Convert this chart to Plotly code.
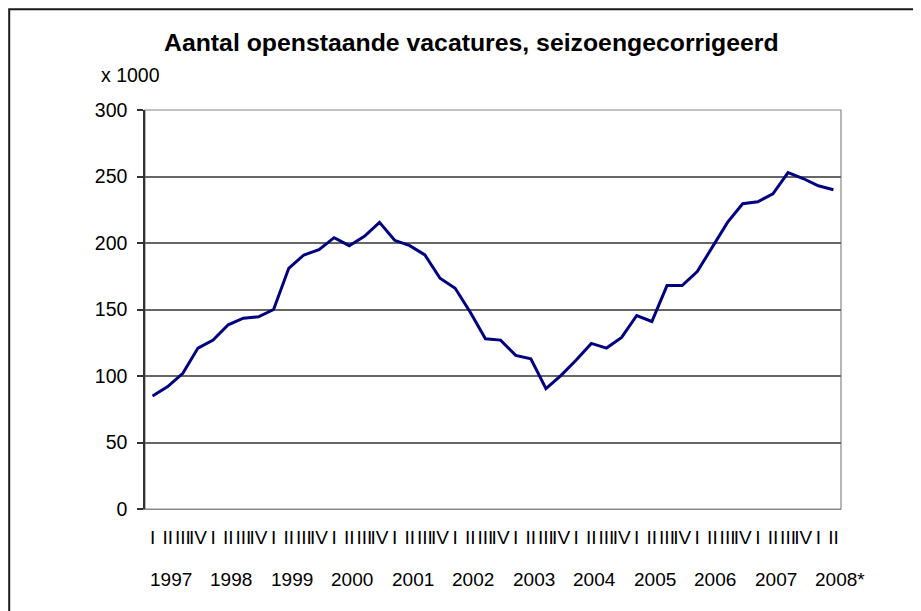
import plotly.graph_objects as go

# ---- data ----
quarters = ["I", "II", "III", "IV"]
years = ["1997", "1998", "1999", "2000", "2001", "2002", "2003",
         "2004", "2005", "2006", "2007", "2008*"]
values = [85, 92, 102, 121, 127, 138.5, 143.5, 144.5,
          150, 181, 191, 195, 204, 198, 205, 215.5,
          202, 198, 191, 173.5, 166, 148, 128, 127,
          115.5, 113, 90.5, 100.5, 112, 124.5, 121, 129,
          145.5, 141, 168, 168, 178.5, 196.5, 215.5, 229.5,
          231, 237, 253, 248.5, 243, 240]
title_text = "Aantal openstaande vacatures, seizoengecorrigeerd"
unit_text = "x 1000"

n = len(values)
xs = list(range(n))
qlabels = [quarters[i % 4] for i in xs]

FONT = "Arial, 'Liberation Sans', sans-serif"

fig = go.Figure()
fig.add_trace(go.Scatter(
    x=xs, y=values, mode="lines",
    line=dict(color="#000080", width=3),
    hoverinfo="skip", showlegend=False,
))

# page offset caused by the default body margin of the html page
OFF = 8
W, H = 921 - OFF, 611 - OFF
# desired plot area in page pixels: x 145..841, y 110..509
L = 145 - OFF
T = 110 - OFF
R = W - (841 - OFF)
B = H - (509 - OFF)
pw, ph = W - L - R, H - T - B

def px_x(p):
    return (p - OFF - L) / pw

def px_y(p):
    return (H - B - (p - OFF)) / ph

annotations = [
    dict(text=f"<b>{title_text}</b>", x=px_x(471), y=px_y(43),
         xref="paper", yref="paper", xanchor="center", yanchor="middle",
         showarrow=False, font=dict(size=24.8, color="black", family=FONT)),
    dict(text=unit_text, x=px_x(99), y=px_y(75),
         xref="paper", yref="paper", xanchor="left", yanchor="middle",
         showarrow=False, font=dict(size=19.5, color="black", family=FONT)),
]
for k, yr in enumerate(years):
    shift = -4.5 + (3.7 if yr.endswith("*") else 0)
    annotations.append(dict(
        text=yr, x=4 * k + 1.5, y=px_y(579), xref="x", yref="paper",
        xanchor="center", yanchor="middle", xshift=shift, showarrow=False,
        font=dict(size=19, color="black", family=FONT)))

shapes = [
    # outer chart border (extends beyond the visible window)
    dict(type="rect", xref="paper", yref="paper",
         x0=px_x(9.2), x1=px_x(940), y0=px_y(640), y1=px_y(9.2),
         line=dict(color="#1a1a1a", width=2), fillcolor="rgba(0,0,0,0)",
         layer="below"),
    # plot area border
    dict(type="rect", xref="paper", yref="paper", x0=0, x1=1, y0=0, y1=1,
         line=dict(color="#888888", width=1.2), fillcolor="rgba(0,0,0,0)",
         layer="below"),
]

fig.update_layout(
    width=W, height=H,
    margin=dict(l=L, r=R, t=T, b=B, pad=0),
    paper_bgcolor="white", plot_bgcolor="white",
    font=dict(family=FONT, size=19, color="black"),
    showlegend=False,
    annotations=annotations,
    shapes=shapes,
    xaxis=dict(
        range=[-0.5, n - 0.5], tickmode="array", tickvals=xs, ticktext=qlabels,
        tickangle=0, ticks="", showgrid=False, zeroline=False,
        showline=True, linecolor="#888888", linewidth=1.2,
        tickfont=dict(size=19, family=FONT, color="black"),
        ticklabelstandoff=11, fixedrange=True,
    ),
    yaxis=dict(
        range=[0, 300], tickmode="linear", tick0=0, dtick=50,
        ticks="outside", ticklen=6, tickcolor="#333333", tickwidth=1.5,
        showgrid=True, gridcolor="#666666", gridwidth=1.5,
        zeroline=False, showline=True, linecolor="#333333", linewidth=1.5,
        tickfont=dict(size=19.5, family=FONT, color="black"),
        ticklabelstandoff=6, fixedrange=True,
    ),
)

fig.write_html("out.html")
